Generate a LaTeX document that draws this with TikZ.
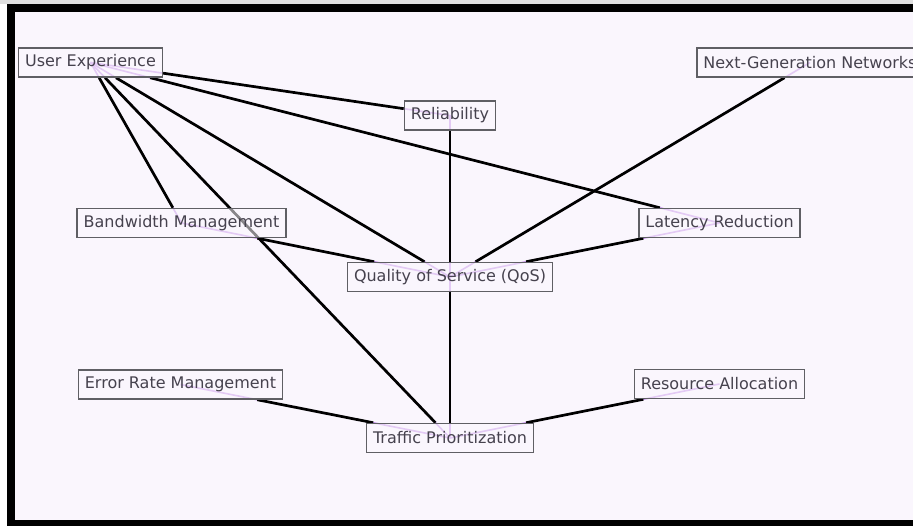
\documentclass[tikz,border=0pt]{standalone}
\usepackage{fontspec}
\setmainfont{DejaVu Sans}
\definecolor{bgl}{RGB}{250,246,253}
\definecolor{ghost}{RGB}{200,150,235}
\definecolor{txt}{RGB}{70,66,78}
\definecolor{boxc}{RGB}{95,95,100}
\pgfdeclarelayer{back}
\pgfdeclarelayer{edgel}
\pgfsetlayers{back,edgel,main}
\tikzset{
  concept/.style={draw=boxc, line width=1.5pt, fill=bgl, fill opacity=0.55, text opacity=1,
    text=txt, font=\fontsize{16}{19}\selectfont, inner xsep=6.5pt, inner ysep=3pt,
    minimum height=29pt},
  link/.style={line width=2.7pt, black},
  ghostlink/.style={line width=1.6pt, ghost}
}
\begin{document}
\begin{tikzpicture}[x=1pt,y=-1pt]
\useasboundingbox (0,0) rectangle (913,526);
\begin{pgfonlayer}{back}
  \fill[white] (0,0) rectangle (913,526);
  \fill[gray!25] (0,0) rectangle (913,4);
  \fill[black] (7,4) rectangle (913,526);
  \fill[bgl] (15,12) rectangle (913,520);
\end{pgfonlayer}

\node[concept] (ue)  at (90.5,62.5) {User Experience};
\node[concept] (ng)  at (810,62.5) {Next-Generation Networks};
\node[concept] (rel) at (450,115.5) {Reliability};
\node[concept] (bw)  at (181.5,223) {Bandwidth Management};
\node[concept] (lat) at (719.5,223) {Latency Reduction};
\node[concept] (qos) at (450,277) {Quality of Service (QoS)};
\node[concept] (err) at (180.5,384.5) {Error Rate Management};
\node[concept] (tp)  at (450,438) {Traffic Prioritization};
\node[concept] (ra)  at (719.5,384) {Resource Allocation};

\begin{pgfonlayer}{edgel}
  \foreach \a/\b in {ue/rel, ue/lat, ue/qos, ue/bw, ue/tp, rel/qos, ng/qos, bw/qos, lat/qos, qos/tp, err/tp, ra/tp}{
    \draw[ghostlink] (\a.center) -- (\b.center);
    \draw[link] (\a) -- (\b);
  }
\end{pgfonlayer}
\end{tikzpicture}
\end{document}
